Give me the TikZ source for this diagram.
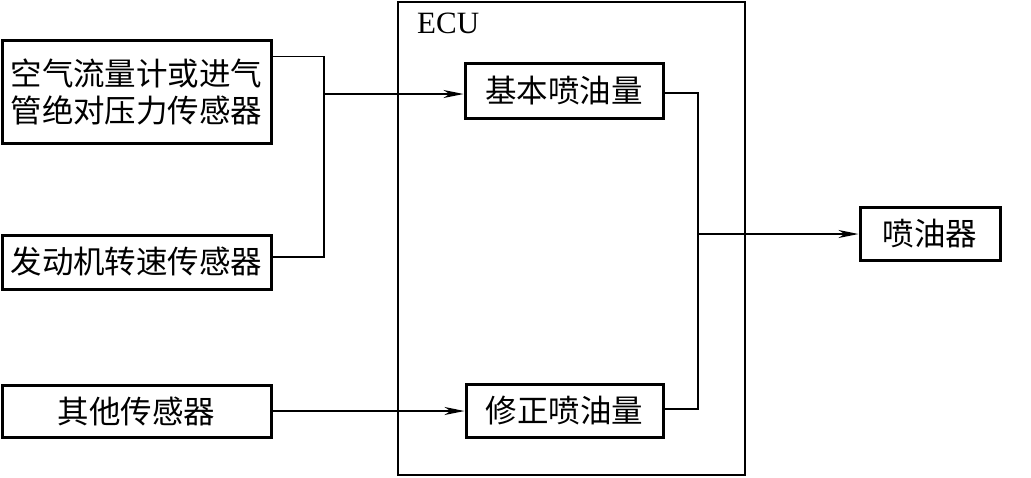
\documentclass[tikz,border=0pt]{standalone}
\usepackage{fontspec}
\setmainfont{Liberation Serif}
\newfontfamily\cjk{Noto Sans CJK SC}
\usetikzlibrary{arrows.meta}
\tikzset{
  blk/.style={draw, line width=3pt, minimum width=#1, inner sep=0pt, align=center,
    font=\cjk\fontsize{31.5}{37}\selectfont},
  conn/.style={line width=1.6pt},
  arr/.style={conn, -{Stealth[length=20pt,width=8pt,inset=6pt]}},
}
\begin{document}
\begin{tikzpicture}[x=1pt,y=-1pt]
\useasboundingbox (0,0) rectangle (1031,477);
% ECU frame
\node[draw, line width=2pt, minimum width=347pt, minimum height=473pt, inner sep=0pt] (ecu) at (571.5,238.5) {};
\node[anchor=north west, inner sep=0pt, font=\fontsize{31}{32}\selectfont] (ecul) at (417,13) {ECU};
% sensors
\node[blk=269pt, minimum height=103pt] (A) at (136.5,91.5) {空气流量计或进气\\管绝对压力传感器};
\node[blk=269pt, minimum height=54pt] (B) at (136.5,262) {发动机转速传感器};
\node[blk=269pt, minimum height=52pt] (C) at (136.5,411) {其他传感器};
% ECU inner
\node[blk=198pt, minimum height=55pt] (D) at (564,91) {基本喷油量};
\node[blk=197pt, minimum height=53pt] (E) at (564.5,411) {修正喷油量};
% injector
\node[blk=140pt, minimum height=53pt] (F) at (930,234) {喷油器};
% junctions
\coordinate (j1) at (324,94);
\coordinate (j2) at (698,234);
% connectors
\draw[conn] ([yshift=-18pt]A.north east) -| (j1) |- ([yshift=5pt]B.east);
\draw[arr] (j1) -- (j1 -| D.west);
\draw[arr] (C.east) -- (E.west);
\draw[conn] ([yshift=-2pt]D.east) -| (j2) |- ([yshift=2pt]E.east);
\draw[arr] (j2) -- (F.west);
\end{tikzpicture}
\end{document}
